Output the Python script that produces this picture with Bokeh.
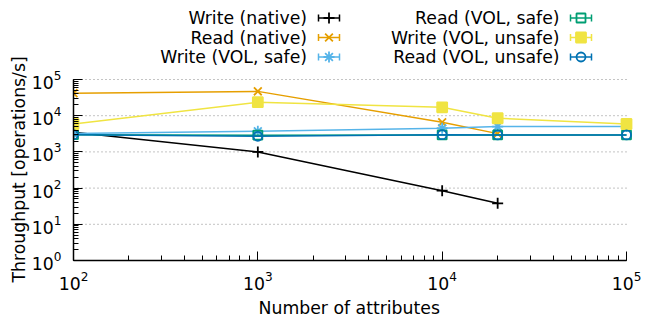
import math
from bokeh.plotting import figure
from bokeh.models import Range1d, ColumnDataSource, Title, LinearScale
from bokeh.embed import file_html
from bokeh.resources import INLINE
from bokeh.core.properties import value

# ---------------- data ----------------
n_attrs = [100, 1000, 10000, 20000, 100000]

write_native = [3500, 1000, 85, 38]
read_native = [42000, 47000, 6600, 3200]
write_vol_safe = [3200, 3700, 4500, 5000, 5000]
read_vol_safe = [3000, 2900, 2950, 2950, 2950]
write_vol_unsafe = [5900, 23600, 17000, 8500, 5900]
read_vol_unsafe = [3000, 2700, 3000, 2950, 2950]

series_names = ["Write (native)", "Read (native)", "Write (VOL, safe)",
                "Read (VOL, safe)", "Write (VOL, unsafe)", "Read (VOL, unsafe)"]
series_values = [write_native, read_native, write_vol_safe,
                 read_vol_safe, write_vol_unsafe, read_vol_unsafe]
colors = ["#000000", "#E69F00", "#56B4E9", "#009E73", "#F0E442", "#0072B2"]
markers = ["cross", "x", "asterisk", "square", "square", "circle"]
filled = [False, False, False, False, True, False]
msizes = [11, 11, 11, 9, 10, 9]

x_axis_min, x_axis_max = 100, 100000
y_axis_min, y_axis_max = 1, 100000
y_ticks = [1, 10, 100, 1000, 10000, 100000]

FONT = "DejaVu Sans"
FS = "17.3px"

# ---------------- geometry (page pixels) ----------------
FIG_W, FIG_H = 651, 322
ax_left, ax_right = 73, 626          # x-axis ends
ax_top, ax_bottom = 79, 260          # y = 1e5 / y = 1
frame_right = 634                    # frame a bit wider so right-edge markers are not cut
frame_top = 2

px_per_dec_x = (ax_right - ax_left) / math.log10(x_axis_max / x_axis_min)
px_per_dec_y = (ax_bottom - ax_top) / math.log10(y_axis_max / y_axis_min)
x_end = x_axis_max * 10 ** ((frame_right - ax_right) / px_per_dec_x)
y_end = y_axis_min * 10 ** ((ax_bottom - frame_top) / px_per_dec_y)

p = figure(width=FIG_W, height=FIG_H, x_axis_type="log", y_axis_type="log",
           x_range=Range1d(x_axis_min, x_end), y_range=Range1d(y_axis_min, y_end),
           output_backend="svg", toolbar_location=None,
           min_border_left=ax_left, min_border_right=FIG_W - frame_right,
           min_border_top=frame_top, min_border_bottom=FIG_H - ax_bottom)
p.outline_line_color = None
p.background_fill_color = "white"
p.border_fill_color = "white"
p.grid.visible = False

# page-pixel ranges (linear) for the legend
p.extra_x_ranges["px"] = Range1d(ax_left, frame_right)
p.extra_y_ranges["py"] = Range1d(ax_bottom, frame_top)
p.extra_x_scales["px"] = LinearScale()
p.extra_y_scales["py"] = LinearScale()

# dotted horizontal grid at the major y ticks
p.segment(x0=[x_axis_min] * len(y_ticks), x1=[x_axis_max] * len(y_ticks),
          y0=y_ticks, y1=y_ticks, line_color="#888888", line_dash="1 3", line_width=1)

for name, vals, c, m, f, s in zip(series_names, series_values, colors, markers, filled, msizes):
    xs = n_attrs[:len(vals)]
    src = ColumnDataSource(dict(x=xs, y=vals))
    p.line("x", "y", source=src, line_color=c, line_width=1.5)
    p.scatter("x", "y", source=src, marker=m, size=s, line_color=c, line_width=1.8,
              fill_color=c if f else None)

for ax in (p.xaxis[0], p.yaxis[0]):
    ax.axis_line_width = 1.5
    ax.axis_line_color = "black"
    ax.major_tick_in = 9
    ax.major_tick_out = 0
    ax.minor_tick_in = 5
    ax.minor_tick_out = 0
    ax.major_tick_line_color = "black"
    ax.minor_tick_line_color = "black"
    ax.major_label_text_font = FONT
    ax.major_label_text_font_size = FS
    ax.major_label_text_color = "black"

p.xaxis.bounds = (x_axis_min, x_axis_max)
p.yaxis.bounds = (y_axis_min, y_axis_max)
p.xaxis.major_label_standoff = 10
p.yaxis.major_label_standoff = 12

# axis titles
p.add_layout(Title(text="Number of attributes", align="left", offset=185,
                   text_font=FONT, text_font_size=FS, text_font_style="normal",
                   text_color="black", standoff=6), "below")
p.add_layout(Title(text="Throughput [operations/s]", align="left", offset=-22,
                   text_font=FONT, text_font_size=FS, text_font_style="normal",
                   text_color="black", standoff=0), "left")

# ---------------- legend (page pixel coordinates) ----------------
row_y = [17.5, 37, 56.5]
text_right = [306.5, 559]
sample_x0 = [318, 570]
sample_len = 21

lx, ly, lt = [], [], []
for i, name in enumerate(series_names):
    col, row = divmod(i, 3)
    y = row_y[row]
    x0 = sample_x0[col]
    x1 = x0 + sample_len
    xm = (x0 + x1) / 2
    lx.append(text_right[col]); ly.append(y); lt.append(name)
    c = colors[i]
    kw = dict(x_range_name="px", y_range_name="py")
    p.segment(x0=[x0], y0=[y], x1=[x1], y1=[y], line_color=c, line_width=1.5, **kw)
    p.segment(x0=[x0, x1], y0=[y - 3.5, y - 3.5], x1=[x0, x1], y1=[y + 3.5, y + 3.5],
              line_color=c, line_width=1.5, **kw)
    p.scatter([xm], [y], marker=markers[i], size=msizes[i], line_color=c, line_width=1.8,
              fill_color=c if filled[i] else None, **kw)

p.text(x=lx, y=ly, text=lt, text_align="right", text_baseline="middle",
       text_font=value(FONT), text_font_size=FS, text_color="black",
       x_range_name="px", y_range_name="py")

open("out.html", "w").write(file_html(p, INLINE))
